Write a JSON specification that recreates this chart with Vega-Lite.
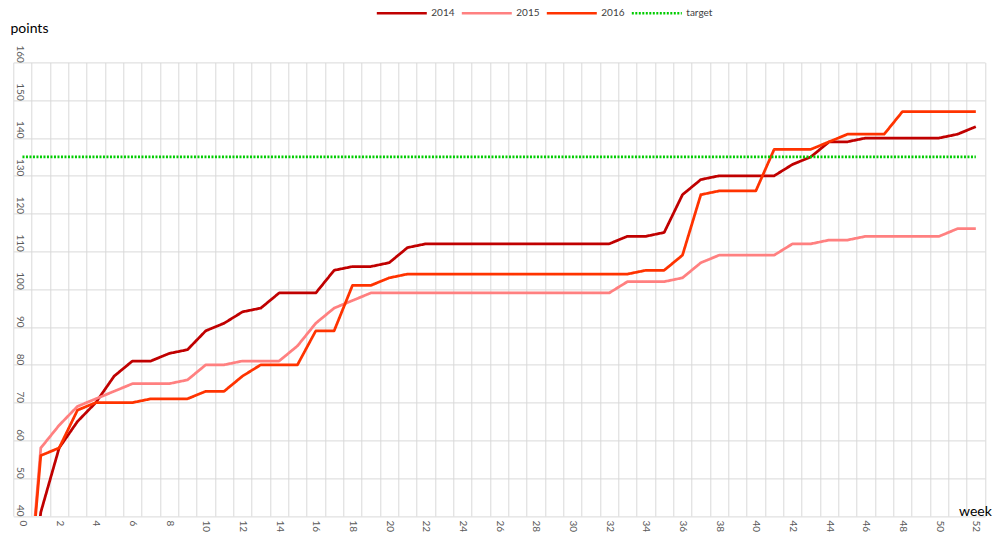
{
  "$schema": "https://vega.github.io/schema/vega-lite/v6.json",
  "width": 971.7,
  "height": 453.6,
  "autosize": {"type": "none"},
  "padding": {"left": 13.3, "top": 62.4, "right": 15, "bottom": 28},
  "background": "white",
  "config": {
    "font": "Lato",
    "view": {"stroke": null},
    "axis": {"gridColor": "#d9d9d9", "gridWidth": 1, "domain": false, "ticks": false, "tickSize": 0, "labelColor": "#595959", "labelFontSize": 10, "labelFont": "Lato", "titleFont": "Lato"}
  },
  "data": {"values": [
    {"week":0,"series":"2014","points":0},{"week":1,"series":"2014","points":41},{"week":2,"series":"2014","points":58},{"week":3,"series":"2014","points":65},{"week":4,"series":"2014","points":70},{"week":5,"series":"2014","points":77},{"week":6,"series":"2014","points":81},{"week":7,"series":"2014","points":81},{"week":8,"series":"2014","points":83},{"week":9,"series":"2014","points":84},{"week":10,"series":"2014","points":89},{"week":11,"series":"2014","points":91},{"week":12,"series":"2014","points":94},{"week":13,"series":"2014","points":95},{"week":14,"series":"2014","points":99},{"week":15,"series":"2014","points":99},{"week":16,"series":"2014","points":99},{"week":17,"series":"2014","points":105},{"week":18,"series":"2014","points":106},{"week":19,"series":"2014","points":106},{"week":20,"series":"2014","points":107},{"week":21,"series":"2014","points":111},{"week":22,"series":"2014","points":112},{"week":23,"series":"2014","points":112},{"week":24,"series":"2014","points":112},{"week":25,"series":"2014","points":112},{"week":26,"series":"2014","points":112},{"week":27,"series":"2014","points":112},{"week":28,"series":"2014","points":112},{"week":29,"series":"2014","points":112},{"week":30,"series":"2014","points":112},{"week":31,"series":"2014","points":112},{"week":32,"series":"2014","points":112},{"week":33,"series":"2014","points":114},{"week":34,"series":"2014","points":114},{"week":35,"series":"2014","points":115},{"week":36,"series":"2014","points":125},{"week":37,"series":"2014","points":129},{"week":38,"series":"2014","points":130},{"week":39,"series":"2014","points":130},{"week":40,"series":"2014","points":130},{"week":41,"series":"2014","points":130},{"week":42,"series":"2014","points":133},{"week":43,"series":"2014","points":135},{"week":44,"series":"2014","points":139},{"week":45,"series":"2014","points":139},{"week":46,"series":"2014","points":140},{"week":47,"series":"2014","points":140},{"week":48,"series":"2014","points":140},{"week":49,"series":"2014","points":140},{"week":50,"series":"2014","points":140},{"week":51,"series":"2014","points":141},{"week":52,"series":"2014","points":143},
    {"week":0,"series":"2015","points":0},{"week":1,"series":"2015","points":58},{"week":2,"series":"2015","points":64},{"week":3,"series":"2015","points":69},{"week":4,"series":"2015","points":71},{"week":5,"series":"2015","points":73},{"week":6,"series":"2015","points":75},{"week":7,"series":"2015","points":75},{"week":8,"series":"2015","points":75},{"week":9,"series":"2015","points":76},{"week":10,"series":"2015","points":80},{"week":11,"series":"2015","points":80},{"week":12,"series":"2015","points":81},{"week":13,"series":"2015","points":81},{"week":14,"series":"2015","points":81},{"week":15,"series":"2015","points":85},{"week":16,"series":"2015","points":91},{"week":17,"series":"2015","points":95},{"week":18,"series":"2015","points":97},{"week":19,"series":"2015","points":99},{"week":20,"series":"2015","points":99},{"week":21,"series":"2015","points":99},{"week":22,"series":"2015","points":99},{"week":23,"series":"2015","points":99},{"week":24,"series":"2015","points":99},{"week":25,"series":"2015","points":99},{"week":26,"series":"2015","points":99},{"week":27,"series":"2015","points":99},{"week":28,"series":"2015","points":99},{"week":29,"series":"2015","points":99},{"week":30,"series":"2015","points":99},{"week":31,"series":"2015","points":99},{"week":32,"series":"2015","points":99},{"week":33,"series":"2015","points":102},{"week":34,"series":"2015","points":102},{"week":35,"series":"2015","points":102},{"week":36,"series":"2015","points":103},{"week":37,"series":"2015","points":107},{"week":38,"series":"2015","points":109},{"week":39,"series":"2015","points":109},{"week":40,"series":"2015","points":109},{"week":41,"series":"2015","points":109},{"week":42,"series":"2015","points":112},{"week":43,"series":"2015","points":112},{"week":44,"series":"2015","points":113},{"week":45,"series":"2015","points":113},{"week":46,"series":"2015","points":114},{"week":47,"series":"2015","points":114},{"week":48,"series":"2015","points":114},{"week":49,"series":"2015","points":114},{"week":50,"series":"2015","points":114},{"week":51,"series":"2015","points":116},{"week":52,"series":"2015","points":116},
    {"week":0,"series":"2016","points":0},{"week":1,"series":"2016","points":56},{"week":2,"series":"2016","points":58},{"week":3,"series":"2016","points":68},{"week":4,"series":"2016","points":70},{"week":5,"series":"2016","points":70},{"week":6,"series":"2016","points":70},{"week":7,"series":"2016","points":71},{"week":8,"series":"2016","points":71},{"week":9,"series":"2016","points":71},{"week":10,"series":"2016","points":73},{"week":11,"series":"2016","points":73},{"week":12,"series":"2016","points":77},{"week":13,"series":"2016","points":80},{"week":14,"series":"2016","points":80},{"week":15,"series":"2016","points":80},{"week":16,"series":"2016","points":89},{"week":17,"series":"2016","points":89},{"week":18,"series":"2016","points":101},{"week":19,"series":"2016","points":101},{"week":20,"series":"2016","points":103},{"week":21,"series":"2016","points":104},{"week":22,"series":"2016","points":104},{"week":23,"series":"2016","points":104},{"week":24,"series":"2016","points":104},{"week":25,"series":"2016","points":104},{"week":26,"series":"2016","points":104},{"week":27,"series":"2016","points":104},{"week":28,"series":"2016","points":104},{"week":29,"series":"2016","points":104},{"week":30,"series":"2016","points":104},{"week":31,"series":"2016","points":104},{"week":32,"series":"2016","points":104},{"week":33,"series":"2016","points":104},{"week":34,"series":"2016","points":105},{"week":35,"series":"2016","points":105},{"week":36,"series":"2016","points":109},{"week":37,"series":"2016","points":125},{"week":38,"series":"2016","points":126},{"week":39,"series":"2016","points":126},{"week":40,"series":"2016","points":126},{"week":41,"series":"2016","points":137},{"week":42,"series":"2016","points":137},{"week":43,"series":"2016","points":137},{"week":44,"series":"2016","points":139},{"week":45,"series":"2016","points":141},{"week":46,"series":"2016","points":141},{"week":47,"series":"2016","points":141},{"week":48,"series":"2016","points":147},{"week":49,"series":"2016","points":147},{"week":50,"series":"2016","points":147},{"week":51,"series":"2016","points":147},{"week":52,"series":"2016","points":147},
    {"week":0,"series":"target","points":135},{"week":1,"series":"target","points":135},{"week":2,"series":"target","points":135},{"week":3,"series":"target","points":135},{"week":4,"series":"target","points":135},{"week":5,"series":"target","points":135},{"week":6,"series":"target","points":135},{"week":7,"series":"target","points":135},{"week":8,"series":"target","points":135},{"week":9,"series":"target","points":135},{"week":10,"series":"target","points":135},{"week":11,"series":"target","points":135},{"week":12,"series":"target","points":135},{"week":13,"series":"target","points":135},{"week":14,"series":"target","points":135},{"week":15,"series":"target","points":135},{"week":16,"series":"target","points":135},{"week":17,"series":"target","points":135},{"week":18,"series":"target","points":135},{"week":19,"series":"target","points":135},{"week":20,"series":"target","points":135},{"week":21,"series":"target","points":135},{"week":22,"series":"target","points":135},{"week":23,"series":"target","points":135},{"week":24,"series":"target","points":135},{"week":25,"series":"target","points":135},{"week":26,"series":"target","points":135},{"week":27,"series":"target","points":135},{"week":28,"series":"target","points":135},{"week":29,"series":"target","points":135},{"week":30,"series":"target","points":135},{"week":31,"series":"target","points":135},{"week":32,"series":"target","points":135},{"week":33,"series":"target","points":135},{"week":34,"series":"target","points":135},{"week":35,"series":"target","points":135},{"week":36,"series":"target","points":135},{"week":37,"series":"target","points":135},{"week":38,"series":"target","points":135},{"week":39,"series":"target","points":135},{"week":40,"series":"target","points":135},{"week":41,"series":"target","points":135},{"week":42,"series":"target","points":135},{"week":43,"series":"target","points":135},{"week":44,"series":"target","points":135},{"week":45,"series":"target","points":135},{"week":46,"series":"target","points":135},{"week":47,"series":"target","points":135},{"week":48,"series":"target","points":135},{"week":49,"series":"target","points":135},{"week":50,"series":"target","points":135},{"week":51,"series":"target","points":135},{"week":52,"series":"target","points":135}
  ]},
  "mark": {"type": "line", "clip": true, "strokeWidth": 2.75, "strokeJoin": "round"},
  "encoding": {
    "x": {
      "field": "week", "type": "quantitative",
      "scale": {"domain": [-0.5, 52.5], "nice": false, "zero": false},
      "axis": {
        "values": [-0.5,0.5,1.5,2.5,3.5,4.5,5.5,6.5,7.5,8.5,9.5,10.5,11.5,12.5,13.5,14.5,15.5,16.5,17.5,18.5,19.5,20.5,21.5,22.5,23.5,24.5,25.5,26.5,27.5,28.5,29.5,30.5,31.5,32.5,33.5,34.5,35.5,36.5,37.5,38.5,39.5,40.5,41.5,42.5,43.5,44.5,45.5,46.5,47.5,48.5,49.5,50.5,51.5,52.5],
        "labelExpr": "((datum.value + 0.5) % 2 == 0 && datum.value < 52) ? '' + (datum.value + 0.5) : ''",
        "labelAngle": 90, "labelAlign": "left", "labelBaseline": "middle",
        "labelOffset": 9.17, "labelPadding": 4,
        "labelOverlap": false, "labelFlush": false, "labelBound": false,
        "grid": true,
        "title": "week", "titleAngle": 0, "titleAlign": "right", "titleBaseline": "alphabetic",
        "titleX": 978, "titleY": -1, "titleFontSize": 14, "titleFontWeight": "normal", "titleColor": "#000000"
      }
    },
    "y": {
      "field": "points", "type": "quantitative",
      "scale": {"domain": [40, 160], "nice": false, "zero": false},
      "axis": {
        "values": [40,50,60,70,80,90,100,110,120,130,140,150,160],
        "labelAngle": 90, "labelAlign": "right", "labelBaseline": "alphabetic",
        "labelPadding": -3, "labelOverlap": false, "labelFlush": false, "labelBound": false,
        "grid": true,
        "title": "points", "titleAngle": 0, "titleAlign": "left", "titleBaseline": "middle",
        "titleX": -3.3, "titleY": -34.4, "titleFontSize": 14, "titleFontWeight": "normal", "titleColor": "#000000"
      }
    },
    "color": {
      "field": "series", "type": "nominal",
      "scale": {"domain": ["2014","2015","2016","target"], "range": ["#C00000","#FF8080","#FF3300","#00CC00"]},
      "legend": {"orient": "none", "legendX": 362, "legendY": -76, "direction": "horizontal", "title": null, "symbolType": "stroke", "symbolSize": 2500, "symbolStrokeWidth": 2.5, "labelFontSize": 10, "labelColor": "#404040", "columnPadding": 1, "labelOffset": 3, "padding": 0}
    },
    "strokeDash": {
      "field": "series", "type": "nominal",
      "scale": {"domain": ["2014","2015","2016","target"], "range": [[1,0],[1,0],[1,0],[2,1.5]]},
      "legend": {"orient": "none", "legendX": 362, "legendY": -76, "direction": "horizontal", "title": null, "symbolType": "stroke", "symbolSize": 2500, "symbolStrokeWidth": 2.5, "labelFontSize": 10, "labelColor": "#404040", "columnPadding": 1, "labelOffset": 3, "padding": 0}
    }
  }
}
